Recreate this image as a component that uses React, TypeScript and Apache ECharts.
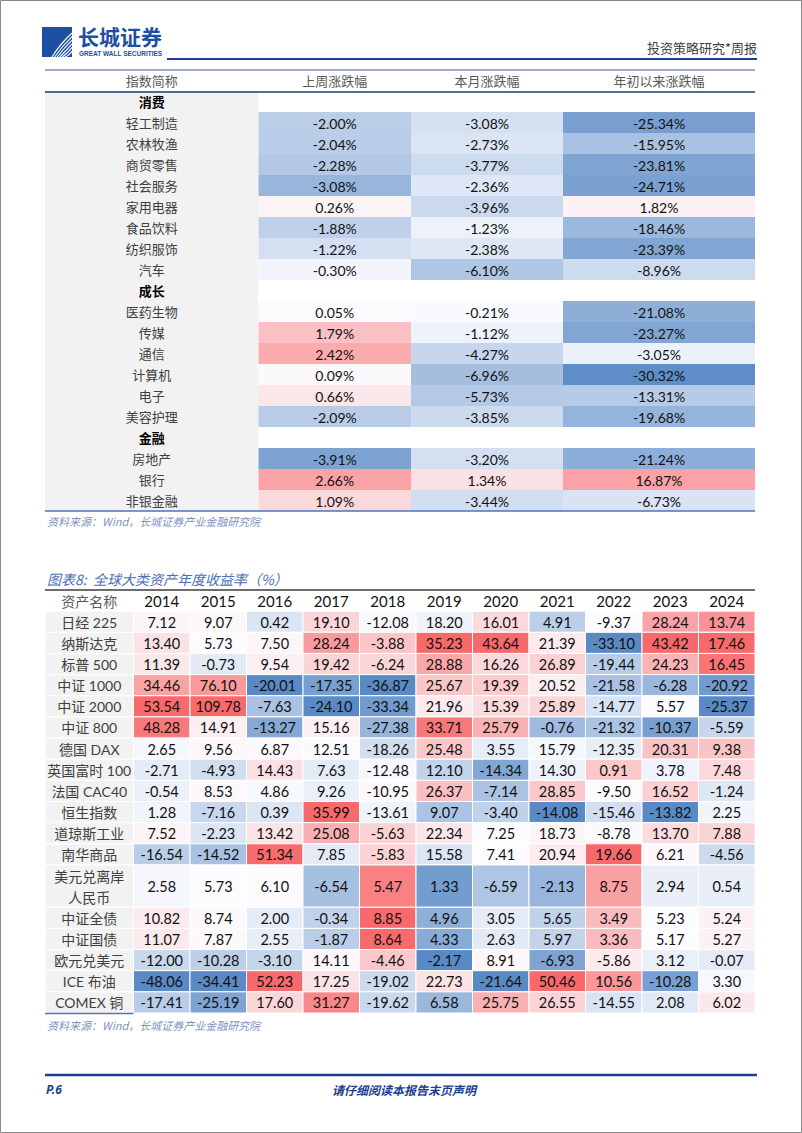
import React, { useEffect, useRef } from "react";
import * as echarts from "echarts";

// ---------------- Table 1 data ----------------
const t1Header = ["指数简称", "上周涨跌幅", "本月涨跌幅", "年初以来涨跌幅"];
const t1Names = [
  "消费", "轻工制造", "农林牧渔", "商贸零售", "社会服务", "家用电器", "食品饮料", "纺织服饰", "汽车",
  "成长", "医药生物", "传媒", "通信", "计算机", "电子", "美容护理",
  "金融", "房地产", "银行", "非银金融",
];
const t1Groups = ["消费", "成长", "金融"];
const t1Week = [null, -2.0, -2.04, -2.28, -3.08, 0.26, -1.88, -1.22, -0.3, null, 0.05, 1.79, 2.42, 0.09, 0.66, -2.09, null, -3.91, 2.66, 1.09];
const t1Month = [null, -3.08, -2.73, -3.77, -2.36, -3.96, -1.23, -2.38, -6.1, null, -0.21, -1.12, -4.27, -6.96, -5.73, -3.85, null, -3.2, 1.34, -3.44];
const t1Ytd = [null, -25.34, -15.95, -23.81, -24.71, 1.82, -18.46, -23.39, -8.96, null, -21.08, -23.27, -3.05, -30.32, -13.31, -19.68, null, -21.24, 16.87, -6.73];

// ---------------- Table 2 data ----------------
const t2Corner = "资产名称";
const t2Years = ["2014", "2015", "2016", "2017", "2018", "2019", "2020", "2021", "2022", "2023", "2024"];
const t2Assets = [
  "日经 225", "纳斯达克", "标普 500", "中证 1000", "中证 2000", "中证 800", "德国 DAX", "英国富时 100",
  "法国 CAC40", "恒生指数", "道琼斯工业", "南华商品", "美元兑离岸\n人民币", "中证全债", "中证国债",
  "欧元兑美元", "ICE 布油", "COMEX 铜",
];
const t2Returns = [
  [7.12, 9.07, 0.42, 19.1, -12.08, 18.2, 16.01, 4.91, -9.37, 28.24, 13.74],
  [13.4, 5.73, 7.5, 28.24, -3.88, 35.23, 43.64, 21.39, -33.1, 43.42, 17.46],
  [11.39, -0.73, 9.54, 19.42, -6.24, 28.88, 16.26, 26.89, -19.44, 24.23, 16.45],
  [34.46, 76.1, -20.01, -17.35, -36.87, 25.67, 19.39, 20.52, -21.58, -6.28, -20.92],
  [53.54, 109.78, -7.63, -24.1, -33.34, 21.96, 15.39, 25.89, -14.77, 5.57, -25.37],
  [48.28, 14.91, -13.27, 15.16, -27.38, 33.71, 25.79, -0.76, -21.32, -10.37, -5.59],
  [2.65, 9.56, 6.87, 12.51, -18.26, 25.48, 3.55, 15.79, -12.35, 20.31, 9.38],
  [-2.71, -4.93, 14.43, 7.63, -12.48, 12.1, -14.34, 14.3, 0.91, 3.78, 7.48],
  [-0.54, 8.53, 4.86, 9.26, -10.95, 26.37, -7.14, 28.85, -9.5, 16.52, -1.24],
  [1.28, -7.16, 0.39, 35.99, -13.61, 9.07, -3.4, -14.08, -15.46, -13.82, 2.25],
  [7.52, -2.23, 13.42, 25.08, -5.63, 22.34, 7.25, 18.73, -8.78, 13.7, 7.88],
  [-16.54, -14.52, 51.34, 7.85, -5.83, 15.58, 7.41, 20.94, 19.66, 6.21, -4.56],
  [2.58, 5.73, 6.1, -6.54, 5.47, 1.33, -6.59, -2.13, 8.75, 2.94, 0.54],
  [10.82, 8.74, 2.0, -0.34, 8.85, 4.96, 3.05, 5.65, 3.49, 5.23, 5.24],
  [11.07, 7.87, 2.55, -1.87, 8.64, 4.33, 2.63, 5.97, 3.36, 5.17, 5.27],
  [-12.0, -10.28, -3.1, 14.11, -4.46, -2.17, 8.91, -6.93, -5.86, 3.12, -0.07],
  [-48.06, -34.41, 52.23, 17.25, -19.02, 22.73, -21.64, 50.46, 10.56, -10.28, 3.3],
  [-17.41, -25.19, 17.6, 31.27, -19.62, 6.58, 25.75, 26.55, -14.55, 2.08, 6.02],
];

// ---------------- styling / layout ----------------
const NUM_FONT = "Lato, 'Noto Sans', sans-serif";
const CJK_FONT = "Lato, 'Noto Sans CJK SC', sans-serif";
const LOW = [90, 138, 198];
const MID = [252, 252, 255];
const HIGH = [248, 105, 107];
const T1_SCALES = [[-5.0, 4.4], [-12.9, 7.4], [-31, 27.6]];
const T1_EDGES = [0, 213.5, 366, 518, 710];
const T2_LABEL_W = 88.5;
const T2_COL_W = (710 - T2_LABEL_W) / 11;
const T2_EDGES = [0, ...Array.from({ length: 12 }, (_, i) => T2_LABEL_W + T2_COL_W * i)];

function mix(a: number[], b: number[], t: number) {
  const k = Math.max(0, Math.min(1, t));
  const c = a.map((v, i) => Math.round(v + (b[i] - v) * k));
  return `rgb(${c[0]},${c[1]},${c[2]})`;
}
function scaleColor(v: number, lo: number, mid: number, hi: number) {
  if (v <= mid) return mix(MID, LOW, (mid - v) / (mid - lo));
  return mix(MID, HIGH, (v - mid) / (hi - mid));
}
function percentile(arr: number[], p: number) {
  const s = [...arr].sort((a, b) => a - b);
  const r = p * (s.length - 1);
  const i = Math.floor(r);
  return s[i] + (s[Math.min(i + 1, s.length - 1)] - s[i]) * (r - i);
}

type Cell = {
  col: number; r0: number; r1: number; fill: string; text?: string;
  color?: string; size?: number; font?: string; bold?: boolean; stroke?: string;
};

function buildT1(): Cell[] {
  const cells: Cell[] = [];
  t1Header.forEach((h, c) =>
    cells.push({ col: c, r0: 0, r1: 1, fill: "#ffffff", text: h, color: "#595959", size: 13, font: CJK_FONT })
  );
  const cols = [t1Week, t1Month, t1Ytd];
  t1Names.forEach((name, i) => {
    const isGroup = t1Groups.includes(name);
    cells.push({
      col: 0, r0: i + 1, r1: i + 2, fill: "#f2f2f2", text: name,
      color: isGroup ? "#000000" : "#404040", size: 13, font: CJK_FONT, bold: isGroup,
    });
    cols.forEach((arr, k) => {
      const v = arr[i];
      if (v === null || isGroup) {
        cells.push({ col: k + 1, r0: i + 1, r1: i + 2, fill: "#ffffff" });
      } else {
        const [lo, hi] = T1_SCALES[k];
        cells.push({
          col: k + 1, r0: i + 1, r1: i + 2, fill: scaleColor(v, lo, 0, hi),
          text: v.toFixed(2) + "%", color: "#111111", size: 14, font: NUM_FONT,
        });
      }
    });
  });
  return cells;
}

function buildT2(): Cell[] {
  const cells: Cell[] = [];
  cells.push({ col: 0, r0: 0, r1: 1, fill: "#ffffff", text: t2Corner, color: "#595959", size: 14, font: CJK_FONT });
  t2Years.forEach((y, c) =>
    cells.push({ col: c + 1, r0: 0, r1: 1, fill: "#ffffff", text: y, color: "#111111", size: 15, font: NUM_FONT })
  );
  const stats = t2Years.map((_, c) => {
    const colVals = t2Returns.map((r) => r[c]);
    return [Math.min(...colVals), percentile(colVals, 0.5), Math.max(...colVals)];
  });
  let row = 1;
  t2Assets.forEach((name, i) => {
    const span = name.includes("\n") ? 2 : 1;
    cells.push({ col: 0, r0: row, r1: row + span, fill: "#f2f2f2", text: name, color: "#404040", size: 14, font: CJK_FONT, stroke: "#ffffff" });
    t2Returns[i].forEach((v, c) => {
      const [lo, mid, hi] = stats[c];
      cells.push({
        col: c + 1, r0: row, r1: row + span, fill: scaleColor(v, lo, mid, hi),
        text: v.toFixed(2), color: "#111111", size: 14.5, font: NUM_FONT, stroke: "#ffffff",
      });
    });
    row += span;
  });
  return cells;
}

function makeRender(cells: Cell[], edges: number[]) {
  return (params: any, api: any) => {
    const cell = cells[params.dataIndex];
    const col = api.value(0);
    const a = api.coord([edges[col], api.value(1)]);
    const b = api.coord([edges[col + 1], api.value(2)]);
    const w = b[0] - a[0];
    const h = b[1] - a[1];
    const children: any[] = [
      {
        type: "rect",
        shape: { x: a[0], y: a[1], width: w, height: h },
        style: { fill: cell.fill, stroke: cell.stroke || null, lineWidth: cell.stroke ? 1 : 0 },
      },
    ];
    if (cell.text) {
      children.push({
        type: "text",
        style: {
          text: cell.text, x: a[0] + w / 2, y: a[1] + h / 2 + 0.5, align: "center", verticalAlign: "middle",
          fontSize: cell.size, fontFamily: cell.font, fontWeight: cell.bold ? "bold" : "normal",
          fill: cell.color, lineHeight: 21,
        },
      });
    }
    return { type: "group", children };
  };
}

export default function App() {
  const ref = useRef<HTMLDivElement>(null);
  useEffect(() => {
    if (!ref.current) return;
    const chart = echarts.init(ref.current, undefined, { renderer: "svg" });
    const t1 = buildT1();
    const t2 = buildT2();
    const t2Units = 1 + t2Assets.reduce((s, n) => s + (n.includes("\n") ? 2 : 1), 0);

    const stripes: any[] = [0, 1, 2, 3, 4, 5].map((i) => ({
      type: "bezierCurve",
      shape: { x1: 52 + i * 2.6, y1: 57, x2: 72, y2: 33 + i * 3.6, cpx1: 60 + i * 2, cpy1: 44 + i * 2.2 },
      style: { stroke: "#ffffff", lineWidth: 1.1, fill: null },
      z: 20,
    }));

    chart.setOption({
      animation: false,
      grid: [
        { left: 45, top: 70, width: 710, height: 441 },
        { left: 45, top: 590, width: 710, height: 423 },
      ],
      xAxis: [
        { type: "value", gridIndex: 0, min: 0, max: 710, show: false },
        { type: "value", gridIndex: 1, min: 0, max: 710, show: false },
      ],
      yAxis: [
        { type: "value", gridIndex: 0, min: 0, max: t1Names.length + 1, inverse: true, show: false },
        { type: "value", gridIndex: 1, min: 0, max: t2Units, inverse: true, show: false },
      ],
      series: [
        {
          type: "custom", xAxisIndex: 0, yAxisIndex: 0, silent: true, clip: false,
          data: t1.map((c) => [c.col, c.r0, c.r1]), renderItem: makeRender(t1, T1_EDGES),
        },
        {
          type: "custom", xAxisIndex: 1, yAxisIndex: 1, silent: true, clip: false,
          data: t2.map((c) => [c.col, c.r0, c.r1]), renderItem: makeRender(t2, T2_EDGES),
        },
      ],
      graphic: [
        // page frame
        { type: "rect", shape: { x: 0.5, y: 0.5, width: 801, height: 1132 }, style: { fill: null, stroke: "#8a8a8a", lineWidth: 1 }, z: 30 },
        // logo
        { type: "rect", shape: { x: 42, y: 27, width: 30, height: 30 }, style: { fill: "#1d4fa2" }, z: 10 },
        ...stripes,
        { type: "text", style: { text: "长城证券", x: 78, y: 36, verticalAlign: "middle", fontSize: 21, fontWeight: "bold", fontFamily: "'Noto Sans CJK SC', sans-serif", fill: "#1d4fa2" }, z: 10 },
        { type: "text", style: { text: "GREAT WALL SECURITIES", x: 79, y: 53.5, verticalAlign: "middle", fontSize: 6.5, fontWeight: "bold", fontFamily: "'Liberation Sans', Arial, sans-serif", fill: "#1d4fa2" }, z: 10 },
        { type: "line", shape: { x1: 167, y1: 59, x2: 757, y2: 59 }, style: { stroke: "#1d3f8f", lineWidth: 2 }, z: 10 },
        { type: "text", style: { text: "投资策略研究*周报", x: 757, y: 47, align: "right", verticalAlign: "middle", fontSize: 13, fontFamily: "'Noto Sans CJK SC', sans-serif", fill: "#404040" }, z: 10 },
        // table 1 rules
        { type: "line", shape: { x1: 45, y1: 70, x2: 755, y2: 70 }, style: { stroke: "#7f90b0", lineWidth: 1.5 }, z: 10 },
        { type: "line", shape: { x1: 45, y1: 92, x2: 755, y2: 92 }, style: { stroke: "#23386e", lineWidth: 1.5 }, z: 10 },
        { type: "line", shape: { x1: 45, y1: 511, x2: 755, y2: 511 }, style: { stroke: "#4f74b8", lineWidth: 1.5 }, z: 10 },
        { type: "text", style: { text: "资料来源：Wind，长城证券产业金融研究院", x: 47, y: 521, verticalAlign: "middle", fontSize: 11, fontStyle: "italic", fontFamily: "'Noto Sans CJK SC', sans-serif", fill: "#7d93bf" }, z: 10 },
        // table 2 title & rules
        { type: "text", style: { text: "图表8:  全球大类资产年度收益率（%）", x: 47, y: 579, verticalAlign: "middle", fontSize: 14, fontStyle: "italic", fontFamily: "'Noto Sans CJK SC', sans-serif", fill: "#4a70b8" }, z: 10 },
        { type: "line", shape: { x1: 45, y1: 590, x2: 755, y2: 590 }, style: { stroke: "#3d3d3d", lineWidth: 1.5 }, z: 10 },
        { type: "line", shape: { x1: 45, y1: 1013.5, x2: 133.5, y2: 1013.5 }, style: { stroke: "#4f74b8", lineWidth: 1.5 }, z: 10 },
        { type: "text", style: { text: "资料来源：Wind，长城证券产业金融研究院", x: 47, y: 1025, verticalAlign: "middle", fontSize: 11, fontStyle: "italic", fontFamily: "'Noto Sans CJK SC', sans-serif", fill: "#7d93bf" }, z: 10 },
        // footer
        { type: "line", shape: { x1: 45, y1: 1075, x2: 757, y2: 1075 }, style: { stroke: "#1d3f8f", lineWidth: 2.5 }, z: 10 },
        { type: "text", style: { text: "P.6", x: 46, y: 1089, verticalAlign: "middle", fontSize: 12, fontWeight: "bold", fontStyle: "italic", fontFamily: "'Noto Sans', sans-serif", fill: "#1d3f8f" }, z: 10 },
        { type: "text", style: { text: "请仔细阅读本报告末页声明", x: 404, y: 1089, align: "center", verticalAlign: "middle", fontSize: 12, fontWeight: "bold", fontStyle: "italic", fontFamily: "'Noto Sans CJK SC', sans-serif", fill: "#1d3f8f" }, z: 10 },
      ],
    });
    return () => chart.dispose();
  }, []);
  return (
    <div
      ref={ref}
      style={{ position: "absolute", left: 0, top: 0, width: 802, height: 1133, background: "#ffffff" }}
    />
  );
}
